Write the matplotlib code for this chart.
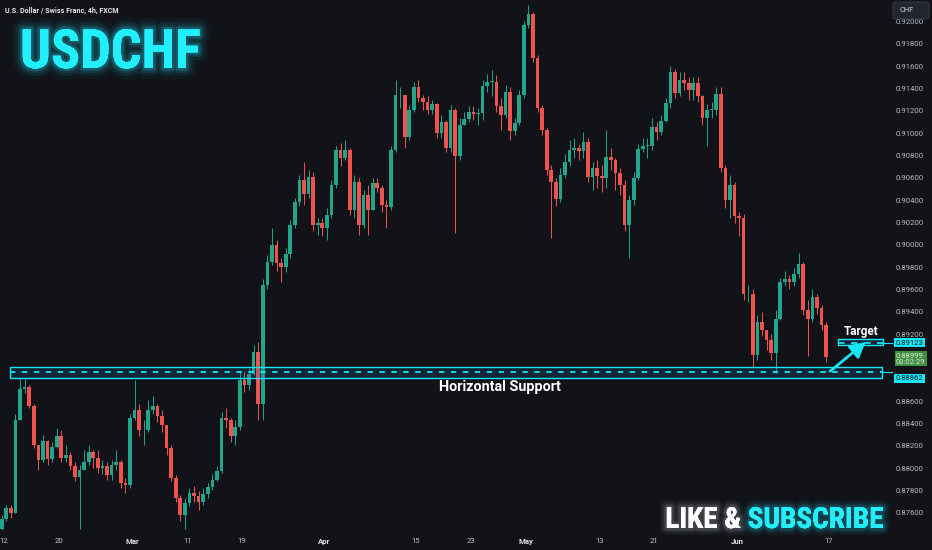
import numpy as np
import matplotlib
matplotlib.use('Agg')
import matplotlib.pyplot as plt
from matplotlib import patheffects as pe
from matplotlib import font_manager as fm
from matplotlib.patches import Rectangle, FancyBboxPatch

# ---------------- data (USDCHF, bars) ----------------
first_open = 0.8745
closes = [0.8754, 0.8764, 0.8760, 0.8843, 0.8871, 0.8873, 0.8856, 0.8821, 0.8807, 0.8824,
          0.8808, 0.8819, 0.8829, 0.8809, 0.8812, 0.8802, 0.8792, 0.8798, 0.8805, 0.8814,
          0.8809, 0.8800, 0.8802, 0.8794, 0.8803, 0.8805, 0.8787, 0.8785, 0.8845, 0.8852,
          0.8834, 0.8834, 0.8852, 0.8856, 0.8847, 0.8839, 0.8818, 0.8791, 0.8773, 0.8758,
          0.8769, 0.8778, 0.8775, 0.8770, 0.8777, 0.8783, 0.8789, 0.8797, 0.8845, 0.8843,
          0.8829, 0.8837, 0.8879, 0.8874, 0.8884, 0.8904, 0.8857, 0.8964, 0.8985, 0.9000,
          0.8984, 0.8980, 0.8992, 0.9018, 0.9038, 0.9058, 0.9046, 0.9061, 0.9018, 0.9020,
          0.9015, 0.9027, 0.9054, 0.9085, 0.9078, 0.9085, 0.9031, 0.9056, 0.9018, 0.9045,
          0.9031, 0.9055, 0.9051, 0.9036, 0.9034, 0.9085, 0.9134, 0.9134, 0.9097, 0.9121,
          0.9141, 0.9132, 0.9128, 0.9121, 0.9126, 0.9100, 0.9110, 0.9087, 0.9121, 0.9080,
          0.9107, 0.9113, 0.9119, 0.9117, 0.9118, 0.9142, 0.9146, 0.9146, 0.9124, 0.9116,
          0.9137, 0.9102, 0.9109, 0.9134, 0.9197, 0.9207, 0.9167, 0.9123, 0.9103, 0.9067,
          0.9056, 0.9041, 0.9063, 0.9074, 0.9085, 0.9087, 0.9084, 0.9092, 0.9061, 0.9069,
          0.9062, 0.9060, 0.9079, 0.9076, 0.9064, 0.9054, 0.9018, 0.9040, 0.9060, 0.9086,
          0.9089, 0.9089, 0.9106, 0.9101, 0.9111, 0.9127, 0.9155, 0.9136, 0.9148, 0.9145,
          0.9139, 0.9145, 0.9133, 0.9114, 0.9121, 0.9121, 0.9135, 0.9069, 0.9040, 0.9054,
          0.9026, 0.9024, 0.8956, 0.8956, 0.8901, 0.8931, 0.8924, 0.8915, 0.8903, 0.8934,
          0.8967, 0.8969, 0.8967, 0.8974, 0.8983, 0.8942, 0.8934, 0.8953, 0.8943, 0.8928,
          0.88999]
highs = [0.8758, 0.8767, 0.8767, 0.8848, 0.8881, 0.8881, 0.8874, 0.8857, 0.8816, 0.8830,
         0.8825, 0.8823, 0.8836, 0.8834, 0.8821, 0.8814, 0.8805, 0.8803, 0.8816, 0.8821,
         0.8816, 0.8816, 0.8807, 0.8805, 0.8807, 0.8816, 0.8807, 0.8791, 0.8848, 0.8879,
         0.8857, 0.8843, 0.8861, 0.8865, 0.8857, 0.8852, 0.8839, 0.8821, 0.8794, 0.8776,
         0.8773, 0.8782, 0.8784, 0.8779, 0.8782, 0.8787, 0.8795, 0.8802, 0.8850, 0.8854,
         0.8845, 0.8843, 0.8886, 0.8886, 0.8890, 0.8910, 0.8913, 0.8969, 0.8991, 0.9015,
         0.9004, 0.8988, 0.8997, 0.9022, 0.9042, 0.9063, 0.9074, 0.9067, 0.9065, 0.9024,
         0.9024, 0.9033, 0.9058, 0.9089, 0.9091, 0.9094, 0.9087, 0.9063, 0.9060, 0.9049,
         0.9054, 0.9060, 0.9060, 0.9054, 0.9040, 0.9089, 0.9148, 0.9141, 0.9134, 0.9125,
         0.9146, 0.9148, 0.9134, 0.9133, 0.9130, 0.9127, 0.9116, 0.9112, 0.9125, 0.9123,
         0.9114, 0.9119, 0.9124, 0.9124, 0.9123, 0.9148, 0.9153, 0.9157, 0.9152, 0.9132,
         0.9143, 0.9141, 0.9114, 0.9139, 0.9201, 0.9215, 0.9209, 0.9170, 0.9125, 0.9105,
         0.9072, 0.9060, 0.9069, 0.9081, 0.9094, 0.9096, 0.9090, 0.9101, 0.9096, 0.9074,
         0.9076, 0.9072, 0.9103, 0.9087, 0.9078, 0.9069, 0.9058, 0.9045, 0.9065, 0.9090,
         0.9096, 0.9096, 0.9114, 0.9110, 0.9116, 0.9132, 0.9160, 0.9158, 0.9155, 0.9155,
         0.9150, 0.9150, 0.9150, 0.9134, 0.9126, 0.9128, 0.9141, 0.9141, 0.9072, 0.9063,
         0.9056, 0.9029, 0.9028, 0.8964, 0.8960, 0.8937, 0.8940, 0.8924, 0.8920, 0.8942,
         0.8970, 0.8977, 0.8973, 0.8979, 0.8993, 0.8985, 0.8951, 0.8960, 0.8956, 0.8946,
         0.8931]
lows = [0.8743, 0.8753, 0.8755, 0.8761, 0.8843, 0.8867, 0.8854, 0.8818, 0.8798, 0.8805,
        0.8803, 0.8805, 0.8818, 0.8805, 0.8805, 0.8798, 0.8788, 0.8745, 0.8798, 0.8803,
        0.8800, 0.8796, 0.8795, 0.8789, 0.8789, 0.8798, 0.8782, 0.8778, 0.8782, 0.8843,
        0.8829, 0.8821, 0.8832, 0.8848, 0.8841, 0.8832, 0.8812, 0.8788, 0.8770, 0.8753,
        0.8745, 0.8766, 0.8770, 0.8762, 0.8767, 0.8773, 0.8780, 0.8788, 0.8796, 0.8836,
        0.8823, 0.8821, 0.8834, 0.8868, 0.8870, 0.8883, 0.8843, 0.8843, 0.8960, 0.8982,
        0.8977, 0.8967, 0.8976, 0.8988, 0.9015, 0.9035, 0.9036, 0.9042, 0.9012, 0.9009,
        0.9008, 0.9004, 0.9024, 0.9051, 0.9071, 0.9076, 0.9027, 0.9024, 0.9009, 0.9015,
        0.9009, 0.9031, 0.9047, 0.9029, 0.9015, 0.9031, 0.9083, 0.9123, 0.9087, 0.9094,
        0.9119, 0.9128, 0.9121, 0.9117, 0.9117, 0.9096, 0.9096, 0.9083, 0.9083, 0.9011,
        0.9076, 0.9107, 0.9110, 0.9112, 0.9107, 0.9112, 0.9137, 0.9133, 0.9119, 0.9103,
        0.9114, 0.9094, 0.9098, 0.9107, 0.9132, 0.9194, 0.9164, 0.9119, 0.9098, 0.9063,
        0.9006, 0.9035, 0.9038, 0.9060, 0.9071, 0.9078, 0.9076, 0.9078, 0.9056, 0.9049,
        0.9051, 0.9047, 0.9051, 0.9067, 0.9049, 0.9045, 0.9012, 0.8988, 0.9036, 0.9058,
        0.9083, 0.9078, 0.9085, 0.9094, 0.9098, 0.9110, 0.9123, 0.9132, 0.9133, 0.9139,
        0.9130, 0.9130, 0.9128, 0.9107, 0.9089, 0.9114, 0.9116, 0.9065, 0.9033, 0.9024,
        0.9020, 0.9008, 0.8951, 0.8949, 0.8890, 0.8897, 0.8918, 0.8906, 0.8897, 0.8885,
        0.8933, 0.8963, 0.8960, 0.8963, 0.8970, 0.8937, 0.8900, 0.8931, 0.8938, 0.8924,
        0.8895]

tick_dates = ['2024-02-12', '2024-02-20', '2024-03-01', '2024-03-11', '2024-03-19',
              '2024-04-01', '2024-04-15', '2024-04-23', '2024-05-01', '2024-05-13',
              '2024-05-21', '2024-06-03', '2024-06-17']
tick_labels = ['12', '20', 'Mar', '11', '19', 'Apr', '15', '23', 'May', '13', '21', 'Jun', '17']
month_labels = ['Mar', 'Apr', 'May', 'Jun']

price_min, price_max, price_step = 0.876, 0.920, 0.002
hidden_price_ticks = [0.890]   # covered by the last-price label on the scale

support_level = 0.88862
support_top, support_bottom = 0.8891, 0.8881
target_level = 0.89123
target_top, target_bottom = 0.89157, 0.89100
last_price = 0.88999
countdown = '03:02:29'

title = 'USDCHF'
subtitle = 'U.S. Dollar / Swiss Franc, 4h, FXCM'

# ---------------- style ----------------
BG = '#111318'
UP = '#22a68b'
DOWN = '#ef5350'
CYAN = '#16e6f5'
TXT = '#b8bbc3'

names = {f.name for f in fm.fontManager.ttflist}
narrow = next((nm for nm in ['Roboto Condensed', 'Liberation Sans Narrow', 'Open Sans Condensed']
               if nm in names), 'DejaVu Sans')
roboto = 'Roboto' if 'Roboto' in names else 'DejaVu Sans'

fig = plt.figure(figsize=(9.32, 5.5), dpi=100, facecolor=BG)
ax = fig.add_axes([0, 20 / 550, 889 / 932, 530 / 550])
ax.set_facecolor(BG)
for s in ax.spines.values():
    s.set_visible(False)

o = np.array([first_open] + closes[:-1])
c = np.array(closes)
h = np.maximum(np.array(highs), np.maximum(o, c))
l = np.minimum(np.array(lows), np.minimum(o, c))
n = len(c)
x = np.arange(n) * 0.5 - 0.25
cols = np.where(c >= o, UP, DOWN)

ax.vlines(x, l, h, colors=cols, linewidth=0.7, zorder=2)
body = np.where(np.abs(c - o) < 0.00004, 0.00004, c - o)
ax.bar(x, body, bottom=o, width=0.4, color=cols, linewidth=0, zorder=3)

ax.set_xlim(-0.4367, 96.616)
ax.set_ylim(0.87445, 0.92194)

# time axis
tpos = np.busday_count('2024-02-12', tick_dates)
ax.set_xticks(tpos)
ax.set_xticklabels(tick_labels)
ax.tick_params(axis='x', length=0, pad=5.6, labelsize=5.6, labelcolor=TXT)
for lab in ax.get_xticklabels():
    lab.set_fontfamily(roboto)
    if lab.get_text() in month_labels:
        lab.set_fontweight('bold')
        lab.set_color('#e0e3ea')

# price axis
ax.yaxis.tick_right()
yt = np.arange(price_min, price_max + price_step / 2, price_step)
ax.set_yticks(yt)
ax.set_yticklabels(['' if any(abs(v - hp) < 1e-9 for hp in hidden_price_ticks) else f'{v:.5f}'
                    for v in yt])
ax.tick_params(axis='y', length=0, pad=5.0, labelsize=5.6, labelcolor=TXT)
for lab in ax.get_yticklabels():
    lab.set_fontfamily(roboto)
    lab.set_horizontalalignment('left')

# support zone
sx0, sx1 = 0.655, 95.85
ax.add_patch(Rectangle((sx0, support_bottom), sx1 - sx0, support_top - support_bottom,
                       facecolor=(0.05, 0.45, 0.65, 0.2), edgecolor=CYAN, linewidth=1.0, zorder=4))
ax.hlines(support_level, sx0, sx1, colors=CYAN, linestyles=(0, (3.0, 3.6)), linewidth=1.3, zorder=5)
ax.plot([sx1, 96.94], [support_level, support_level], color=CYAN, lw=0.8, clip_on=False, zorder=5)

# target zone
tx0, tx1 = 91.05, 95.96
ax.add_patch(Rectangle((tx0, target_bottom), tx1 - tx0, target_top - target_bottom,
                       facecolor=(0.05, 0.45, 0.65, 0.2), edgecolor=CYAN, linewidth=1.0, zorder=4))
ax.hlines(target_level, tx0, tx1, colors=CYAN, linestyles=(0, (3.6, 3.6)), linewidth=1.3, zorder=5)
ax.plot([tx1, 96.94], [target_level, target_level], color=CYAN, lw=0.8, clip_on=False, zorder=5)

# arrow
ax.annotate('', xy=(94.05, 0.89128), xytext=(90.2, support_level + 0.00006),
            arrowprops=dict(arrowstyle='-|>,head_length=0.9,head_width=0.5', color=CYAN,
                            lw=2.0, shrinkA=0, shrinkB=0), zorder=6)

ax.text(93.6, 0.89193, 'Target', ha='center', va='baseline', fontsize=8.4,
        fontweight='bold', color='white', fontfamily=roboto, zorder=6)
ax.text(54.15, 0.88693, 'Horizontal Support', ha='center', va='baseline', fontsize=10.4,
        fontweight='bold', color='white', fontfamily=roboto, zorder=6)

# price labels on the scale
ytr = ax.get_yaxis_transform()
ax.annotate(f'{target_level:.5f}', xy=(1, target_level), xycoords=ytr,
            xytext=(7, 0), textcoords='offset pixels', ha='left', va='center',
            fontsize=5.5, fontfamily=roboto, color='#0b1a24',
            bbox=dict(boxstyle='square,pad=0.22', fc=CYAN, ec='none'), annotation_clip=False)
ax.annotate(f'{last_price:.5f}\n{countdown}', xy=(1, last_price), xycoords=ytr,
            xytext=(7, 4.0), textcoords='offset pixels', ha='left', va='top',
            fontsize=5.5, fontfamily=roboto, color='#d9ecd6', linespacing=1.05,
            bbox=dict(boxstyle='square,pad=0.18', fc='#3f8f42', ec='none'), annotation_clip=False)
ax.annotate(f'{support_level:.5f}', xy=(1, support_level), xycoords=ytr,
            xytext=(7, -6.5), textcoords='offset pixels', ha='left', va='center',
            fontsize=5.5, fontfamily=roboto, color='#0b1a24',
            bbox=dict(boxstyle='square,pad=0.22', fc=CYAN, ec='none'), annotation_clip=False)

# currency box
fig.add_artist(FancyBboxPatch((893 / 932, 1 - 19 / 550), 36 / 932, 17 / 550,
                              boxstyle='round,pad=0,rounding_size=0.004',
                              transform=fig.transFigure, fc='#23262f', ec='#3a3e4a', lw=0.6))
fig.text(899 / 932, 1 - 10.5 / 550, 'CHF', ha='left', va='center', fontsize=5.4,
         color='#d1d4dc', fontfamily=roboto)

# titles
fig.text(5 / 932, 1 - 11 / 550, subtitle, ha='left', va='center', fontsize=5.1,
         fontweight='bold', color='#e6e8ee', fontfamily=roboto)


def glow(color, widths=(16, 11, 7, 4), alphas=(0.04, 0.07, 0.11, 0.2)):
    return [pe.withStroke(linewidth=w, foreground=color, alpha=a) for w, a in zip(widths, alphas)] + [pe.Normal()]


fig.text(20 / 932, 1 - 68 / 550, title, ha='left', va='baseline', fontsize=39,
         fontweight='bold', color='#22eefc', fontfamily=narrow,
         path_effects=glow('#20d8f0'))

fig.text(741 / 932, 1 - 528 / 550, 'LIKE &', ha='right', va='baseline', fontsize=21,
         fontweight='bold', color='white', fontfamily=narrow,
         path_effects=glow('#c8ccd8', widths=(10, 7, 4), alphas=(0.05, 0.08, 0.15)))
fig.text(883 / 932, 1 - 528 / 550, 'SUBSCRIBE', ha='right', va='baseline', fontsize=21,
         fontweight='bold', color='#22eefc', fontfamily=narrow,
         path_effects=glow('#20d8f0', widths=(10, 7, 4), alphas=(0.05, 0.08, 0.15)))

fig.savefig('out.png', dpi=100, facecolor=BG)
